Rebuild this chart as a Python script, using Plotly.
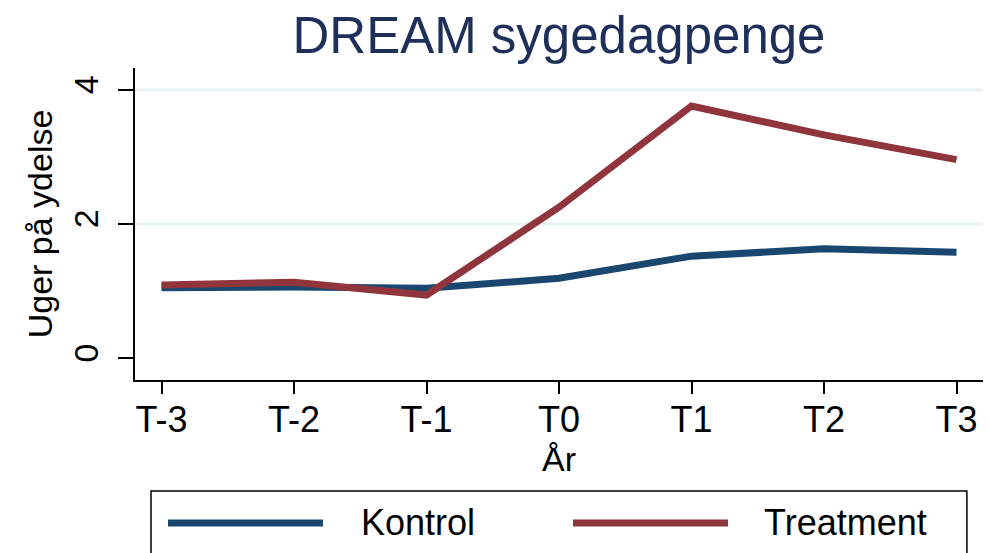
import plotly.graph_objects as go

categories = ["T-3", "T-2", "T-1", "T0", "T1", "T2", "T3"]
kontrol = [1.05, 1.06, 1.04, 1.19, 1.52, 1.63, 1.58]
treatment = [1.09, 1.13, 0.94, 2.25, 3.76, 3.33, 2.96]
y_ticks = [0, 2, 4]
series_names = ["Kontrol", "Treatment"]
colors = ["#1a476f", "#90353b"]

FONT = "Liberation Sans, Arial, sans-serif"
xpos = list(range(len(categories)))

fig = go.Figure()
for name, vals, col in zip(series_names, [kontrol, treatment], colors):
    fig.add_trace(go.Scatter(x=xpos, y=vals, mode="lines", name=name,
                             line=dict(color=col, width=7), showlegend=False))

# gridlines at non-zero ticks
for v in y_ticks:
    if v != 0:
        fig.add_shape(type="line", xref="paper", yref="y", x0=0, x1=1, y0=v, y1=v,
                      line=dict(color="#eaf2f3", width=3), layer="below")

# legend box drawn manually (Stata style)
fig.add_shape(type="rect", xref="paper", yref="paper", x0=0.0189, x1=0.981,
              y0=-0.3558, y1=-0.60, line=dict(color="black", width=1.5))
leg_lines = [(0.0389, 0.2217), (0.5165, 0.6993)]
leg_text_x = [0.2642, 0.7394]
for (x0, x1), tx, name, col in zip(leg_lines, leg_text_x, series_names, colors):
    fig.add_shape(type="line", xref="paper", yref="paper", x0=x0, x1=x1,
                  y0=-0.4583, y1=-0.4583, line=dict(color=col, width=7))
    fig.add_annotation(xref="paper", yref="paper", x=tx, y=-0.4583, text=name,
                       showarrow=False, xanchor="left", yanchor="middle",
                       font=dict(family=FONT, size=36, color="black"))

fig.update_layout(
    width=990, height=553,
    margin=dict(l=135, r=7, t=68, b=173),
    paper_bgcolor="white", plot_bgcolor="white",
    title=dict(text="DREAM sygedagpenge", x=(135 + 983) / 2 / 990, xanchor="center",
               y=1 - 35 / 553, yanchor="middle", yref="container",
               font=dict(family=FONT, size=51, color="#1e2f5a")),
    font=dict(family=FONT, color="black"),
)
fig.update_xaxes(
    range=[-0.2, 6.2], tickvals=xpos, ticktext=categories,
    showgrid=False, zeroline=False, showline=True, linecolor="black", linewidth=2,
    ticks="outside", ticklen=12, tickwidth=2, tickcolor="black",
    ticklabelstandoff=-5,
    tickfont=dict(family=FONT, size=36, color="black"),
    title=dict(text="År", font=dict(family=FONT, size=34, color="black"), standoff=0),
)
fig.update_yaxes(
    range=[-0.328, 4.328], tickvals=y_ticks, ticktext=[str(v) for v in y_ticks],
    showgrid=False, zeroline=False, showline=True, linecolor="black", linewidth=2,
    ticks="outside", ticklen=15, tickwidth=2, tickcolor="black", tickangle=-90,
    ticklabelstandoff=6,
    tickfont=dict(family=FONT, size=34, color="black"),
    title=dict(text="Uger på ydelse", font=dict(family=FONT, size=34, color="black"), standoff=5),
)

fig.write_html("out.html", config={"displayModeBar": False},
               post_script="document.body.style.margin='0';")
